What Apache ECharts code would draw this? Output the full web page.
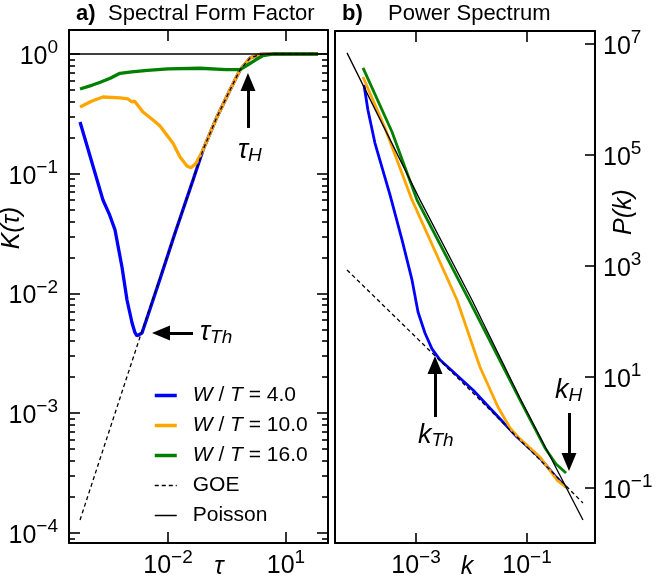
<!DOCTYPE html>
<html>
<head>
<meta charset="utf-8">
<script src="https://cdn.jsdelivr.net/npm/echarts@6/dist/echarts.min.js"></script>
<style>
  html, body { margin: 0; padding: 0; background: #fff; }
  #chart { width: 664px; height: 579px; }
</style>
</head>
<body>
<div id="chart"></div>
<script>
// a) spectral form factor, points are [tau, K]
const sffW4 = [[5.8e-5,0.270],[2.22e-4,0.0603],[3.3e-4,0.045],[4.49e-4,0.0339],[6.76e-4,0.0166],[9.07e-4,0.00881],
  [1.22e-3,0.00566],[1.45e-3,0.0047],[1.63e-3,0.00441],[2.18e-3,0.00467],[3.49e-3,0.00741],[6.26e-3,0.0132],
  [0.0151,0.032],[0.0433,0.0886],[0.0777,0.158],[0.176,0.298],[0.377,0.5],[0.677,0.735],[1.22,0.926],
  [2.18,0.99],[3.9,1.0],[65,1.0]];
const sffW10 = [[5.8e-5,0.361],[1.17e-4,0.405],[2.22e-4,0.437],[6.03e-4,0.429],[9.62e-4,0.421],[1.22e-3,0.397],
  [1.4e-3,0.405],[2.31e-3,0.328],[4.16e-3,0.281],[6.26e-3,0.250],[0.0134,0.180],[0.0202,0.138],[0.0304,0.116],
  [0.0385,0.112],[0.0516,0.122],[0.0777,0.158],[0.176,0.298],[0.377,0.5],[0.677,0.735],[1.22,0.926],
  [2.18,0.99],[3.9,1.0],[65,1.0]];
const sffW16 = [[5.8e-5,0.51],[1.2e-4,0.55],[1.9e-4,0.58],[3.5e-4,0.63],[6e-4,0.69],[1.2e-3,0.71],[3e-3,0.73],
  [1e-2,0.75],[0.065,0.76],[0.3,0.74],[0.68,0.74],[1.0,0.80],[1.66,0.89],[2.6,0.97],[5,1.0],[65,1.0]];
const sffGOE = [[5.8e-5,1.28e-4],[1.94e-3,4.32e-3],[0.0151,0.032],[0.0433,0.0886],[0.0777,0.158],[0.176,0.298],
  [0.377,0.5],[0.677,0.735],[1.22,0.926],[2.18,0.99],[3.9,1.0],[65,1.0]];
const sffPoisson = [[3.04e-5,1],[117,1]];

// b) power spectrum, points are [k, P]
const psW4 = [[1.156e-4,1.82e6],[1.36e-4,6.47e5],[1.82e-4,1.64e5],[3.40e-4,1.90e4],[5.60e-4,2940],[8.47e-4,560],
  [1.087e-3,148],[1.45e-3,62.1],[1.94e-3,32.0],[2.70e-3,20.4],[0.01064,5.83],[0.066,0.83],[0.171,0.347],
  [0.347,0.151],[0.505,0.104]];
const psW10 = [[1.11e-4,2.54e6],[2.76e-4,3.06e5],[8.47e-4,1.55e4],[5.48e-3,244],[0.0142,15.1],[0.030,2.88],
  [0.0494,1.21],[0.0689,0.83],[0.171,0.362],[0.347,0.139],[0.526,0.1]];
const psW16 = [[1.11e-4,3.70e6],[3.70e-4,2.59e5],[1.04e-3,1.55e4],[9.0e-3,244],[0.078,3.55],[0.211,0.526],
  [0.333,0.270],[0.505,0.186]];
const psGOE = [[5.71e-5,847],[9.4e-3,5.83],[1.02,0.0537]];
const psPoisson = [[5.71e-5,6.89e6],[1.18e-3,1.55e4],[0.0102,244],[0.0748,4.19],[1.02,0.0265]];

// ticks
const sffTauTicks = [1e-2, 10];
const sffKTicks = [1, 0.1, 0.01, 0.001, 1e-4];
const psKTicks = [1e-3, 1e-1];
const psPTicks = [1e7, 1e5, 1e3, 10, 0.1];
const sffKMinor = [];
for (let e = -5; e <= 0; e++) {
  for (let m = 2; m <= 9; m++) sffKMinor.push(m * Math.pow(10, e));
}

const names = ['W / T = 4.0', 'W / T = 10.0', 'W / T = 16.0', 'GOE', 'Poisson'];
const colors = ['#0000ff', '#ffa500', '#008000'];

const FONT = '"Liberation Sans", Arial, sans-serif';
const rich = {
  b: { fontSize: 25, fontFamily: FONT, color: '#000', verticalAlign: 'bottom', lineHeight: 31 },
  s: { fontSize: 19, fontFamily: FONT, color: '#000', verticalAlign: 'top', lineHeight: 31 }
};
function expLabel(v) {
  const e = Math.round(Math.log10(v));
  return '{b|10}{s|' + (e < 0 ? '\u2212' + (-e) : e) + '}';
}

function logAxis(grid, pos, min, max, opt) {
  return Object.assign({
    type: 'log', gridIndex: grid, position: pos, min: min, max: max,
    axisLine: { show: true, onZero: false, lineStyle: { color: '#000', width: 2 } },
    axisTick: { show: false },
    axisLabel: { show: false },
    splitLine: { show: false },
    minorTick: { show: false }
  }, opt);
}
function ticks(vals, len) {
  return { show: true, inside: true, length: len, customValues: vals, lineStyle: { color: '#000', width: 1.6 } };
}
function labels(vals, margin) {
  return { show: true, customValues: vals, formatter: expLabel, rich: rich, margin: margin };
}

const tauMin = 3.04e-5, tauMax = 117, kMinL = 8.22e-5, kMaxL = 1.586;
const kMin = 3.47e-5, kMax = 1.68, pMin = 0.0102, pMax = 1.71e7;

const xAxis = [
  logAxis(0, 'bottom', tauMin, tauMax, { axisTick: ticks(sffTauTicks, 11), axisLabel: labels(sffTauTicks, 5) }),
  logAxis(0, 'top', tauMin, tauMax, { axisTick: ticks(sffTauTicks, 11) }),
  logAxis(1, 'bottom', kMin, kMax, { axisTick: ticks(psKTicks, 10), axisLabel: labels(psKTicks, 5) }),
  logAxis(1, 'top', kMin, kMax, { axisTick: ticks(psKTicks, 11) })
];
const yAxis = [
  logAxis(0, 'left', kMinL, kMaxL, { axisTick: ticks(sffKTicks, 11), axisLabel: labels(sffKTicks, 11) }),
  logAxis(0, 'left', kMinL, kMaxL, { axisLine: { show: false }, axisTick: ticks(sffKMinor, 6) }),
  logAxis(0, 'right', kMinL, kMaxL, { axisTick: ticks(sffKTicks, 11) }),
  logAxis(0, 'right', kMinL, kMaxL, { axisLine: { show: false }, axisTick: ticks(sffKMinor, 6) }),
  logAxis(1, 'right', pMin, pMax, { axisTick: ticks(psPTicks, 10), axisLabel: labels(psPTicks, 8) }),
  logAxis(1, 'left', pMin, pMax, {})
];

function curve(name, data, color, width, xi, yi, dashed) {
  return {
    name: name, type: 'line', data: data, xAxisIndex: xi, yAxisIndex: yi,
    symbol: 'none', smooth: false, animation: false, silent: true,
    lineStyle: { color: color, width: width, type: dashed ? [4, 3] : 'solid' },
    itemStyle: { color: color }
  };
}
function arrows(list) {
  return {
    silent: true, animation: false, symbol: ['none', 'triangle'], symbolSize: [15, 18],
    label: { show: false },
    lineStyle: { color: '#000', width: 3, type: 'solid' },
    itemStyle: { color: '#000' },
    data: list.map(a => [{ coord: a[0] }, { coord: a[1] }])
  };
}

const sffPois = curve(names[4], sffPoisson, '#000', 1.3, 0, 0);
sffPois.markLine = arrows([
  [[1.08, 0.241], [1.08, 0.583]],
  [[0.0433, 4.67e-3], [6.64e-3, 4.67e-3]]
]);
const psPois = curve(names[4], psPoisson, '#000', 1.3, 2, 4);
psPois.markLine = arrows([
  [[2.2e-3, 1.9], [2.2e-3, 16.4]],
  [[0.571, 2.24], [0.571, 0.294]]
]);

const series = [
  curve(names[0], sffW4, colors[0], 3.3, 0, 0),
  curve(names[1], sffW10, colors[1], 3.3, 0, 0),
  curve(names[2], sffW16, colors[2], 3.3, 0, 0),
  curve(names[3], sffGOE, '#000', 1.3, 0, 0, true),
  sffPois,
  curve(names[0], psW4, colors[0], 2.8, 2, 4),
  curve(names[1], psW10, colors[1], 2.8, 2, 4),
  curve(names[2], psW16, colors[2], 2.8, 2, 4),
  curve(names[3], psGOE, '#000', 1.3, 2, 4, true),
  psPois
];

function txt(x, y, text, size, extra) {
  return {
    type: 'text', x: x, y: y, silent: true,
    style: Object.assign({ text: text, fontSize: size, fontFamily: FONT, fill: '#000',
      align: 'left', verticalAlign: 'middle' }, extra || {})
  };
}
const annRich = {
  t: { fontSize: 27, fontFamily: FONT, fontStyle: 'italic', verticalAlign: 'top', lineHeight: 29 },
  u: { fontSize: 19, fontFamily: FONT, fontStyle: 'italic', verticalAlign: 'bottom', lineHeight: 29 }
};

const legendData = names.map((n, i) => ({
  name: n, lineStyle: { width: i < 3 ? 3.5 : 1.5 }
}));

const chart = echarts.init(document.getElementById('chart'));
chart.setOption({
  animation: false,
  backgroundColor: '#fff',
  grid: [
    { left: 69, top: 30, width: 259, height: 513 },
    { left: 335, top: 31, width: 260, height: 512 }
  ],
  xAxis: xAxis,
  yAxis: yAxis,
  legend: {
    data: legendData, orient: 'vertical', left: 153, top: 385, padding: 0,
    itemWidth: 22, itemHeight: 14, itemGap: 9,
    itemStyle: { opacity: 0 },
    formatter: n => n.replace(/([WT])/g, '{i|$1}'),
    textStyle: { fontSize: 21, fontFamily: FONT, color: '#000', padding: [0, 0, 0, 11],
      rich: { i: { fontSize: 21, fontFamily: FONT, fontStyle: 'italic', color: '#000' } } }
  },
  series: series,
  graphic: [
    txt(76, 14, 'a)', 22, { fontWeight: 'bold' }),
    txt(108, 14, 'Spectral Form Factor', 22),
    txt(342, 14, 'b)', 22, { fontWeight: 'bold' }),
    txt(388, 14, 'Power Spectrum', 22),
    txt(219, 567, '\u03c4', 25, { align: 'center', fontStyle: 'italic' }),
    txt(467, 567, 'k', 25, { align: 'center', fontStyle: 'italic' }),
    Object.assign(txt(12, 228, 'K(\u03c4)', 25, { align: 'center', fontStyle: 'italic' }), { rotation: Math.PI / 2 }),
    Object.assign(txt(624, 212, 'P(k)', 25, { align: 'center', fontStyle: 'italic' }), { rotation: Math.PI / 2 }),
    txt(238, 151, '{t|\u03c4}{u|H}', 27, { rich: annRich }),
    txt(200, 333, '{t|\u03c4}{u|Th}', 27, { rich: annRich }),
    txt(418, 436, '{t|k}{u|Th}', 27, { rich: annRich }),
    txt(555, 391, '{t|k}{u|H}', 27, { rich: annRich })
  ]
});
</script>
</body>
</html>
